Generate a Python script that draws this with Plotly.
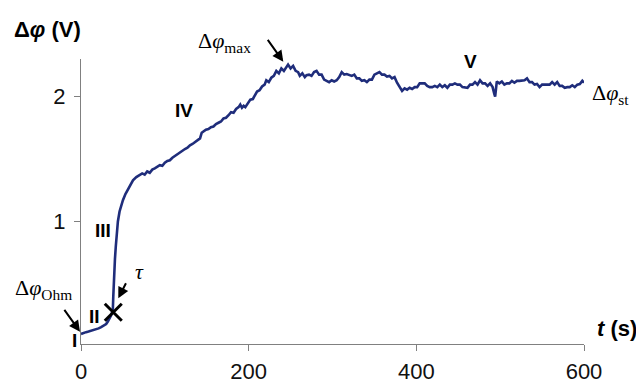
import plotly.graph_objects as go

# ---- data ----
t_vals = [0, 3, 6, 9, 12, 15, 18, 21, 24, 27, 30, 32, 34, 36, 37, 38,
          38.5, 39, 39.7, 40.5, 41.5, 42.5, 44, 46, 48, 50, 53, 56, 59, 62, 66, 70,
          73, 76, 79, 82, 85, 88, 91, 94, 97, 100, 103, 106, 109, 112, 115, 118,
          121, 124, 127, 130, 133, 136, 139, 142, 144, 146, 149, 152, 155, 158,
          161, 164, 167, 170, 173, 176, 179, 182, 185, 188, 190, 192, 194, 196,
          199, 202, 205, 208, 210, 213, 216, 219, 221, 224, 227, 230, 233, 236,
          239, 242, 245, 247,
          250, 253, 256, 259, 261, 264, 267, 269, 272, 275, 278, 281, 284, 287,
          290, 293, 296, 299, 302, 305, 308, 311, 314, 317, 320, 323, 326, 329,
          332, 335, 338, 341, 344, 347, 350, 353, 356, 359, 362, 365, 368, 371,
          374, 377, 380, 383, 386, 389, 392, 395, 398, 401, 404, 407, 410, 413,
          416, 419, 422, 425, 428, 431, 434, 437, 440, 443, 446, 449, 452, 455,
          458, 461, 464, 467, 470, 473, 476, 479, 482, 485, 488, 491, 493, 494,
          495, 496, 499, 502, 505, 508, 511, 514, 517, 520, 523, 526, 529, 532,
          535, 538, 541, 544, 547, 550, 553, 556, 559, 562, 565, 568, 571, 574,
          577, 580, 583, 586, 589, 592, 595, 598, 600]
dphi_vals = [0.10, 0.11, 0.115, 0.12, 0.125, 0.13, 0.14, 0.145, 0.155, 0.165, 0.18, 0.20, 0.22, 0.25, 0.27, 0.30,
             0.40, 0.50, 0.62, 0.70, 0.80, 0.90, 1.00, 1.08, 1.13, 1.17, 1.22, 1.26, 1.30, 1.33, 1.355, 1.37,
             1.385, 1.375, 1.40, 1.39, 1.415, 1.425, 1.435, 1.45, 1.445, 1.47, 1.485, 1.49, 1.51, 1.525, 1.535, 1.55,
             1.565, 1.58, 1.59, 1.61, 1.62, 1.635, 1.645, 1.665, 1.71, 1.72, 1.735, 1.74, 1.755, 1.76,
             1.78, 1.79, 1.80, 1.825, 1.83, 1.85, 1.875, 1.87, 1.90, 1.915, 1.935, 1.91, 1.925, 1.915,
             1.95, 1.975, 1.98, 2.01, 2.04, 2.05, 2.08, 2.095, 2.13, 2.115, 2.15, 2.165, 2.205, 2.185,
             2.225, 2.205, 2.24, 2.255,
             2.225, 2.245, 2.205, 2.195, 2.165, 2.185, 2.155, 2.17, 2.175, 2.165, 2.195, 2.205, 2.175, 2.175,
             2.135, 2.125, 2.115, 2.13, 2.12, 2.13, 2.155, 2.195, 2.175, 2.18, 2.17, 2.165, 2.175, 2.145,
             2.145, 2.125, 2.13, 2.115, 2.135, 2.135, 2.175, 2.185, 2.195, 2.175, 2.175, 2.16, 2.165, 2.145,
             2.155, 2.11, 2.075, 2.045, 2.065, 2.055, 2.07, 2.06, 2.075, 2.075, 2.105, 2.105, 2.105, 2.085,
             2.075, 2.075, 2.085, 2.075, 2.095, 2.075, 2.09, 2.07, 2.095, 2.095, 2.105, 2.095, 2.095, 2.075,
             2.075, 2.07, 2.095, 2.095, 2.115, 2.095, 2.13, 2.105, 2.105, 2.085, 2.105, 2.075, 2.02, 2.00,
             2.06, 2.12, 2.105, 2.12, 2.095, 2.105, 2.105, 2.125, 2.11, 2.125, 2.125, 2.125, 2.13, 2.145,
             2.115, 2.115, 2.095, 2.10, 2.075, 2.095, 2.095, 2.095, 2.095, 2.115, 2.095, 2.115, 2.085, 2.085,
             2.07, 2.075, 2.075, 2.09, 2.075, 2.095, 2.10, 2.125, 2.11]

tau_t = [38.5]
tau_v = [0.274]

x_ticks = [0, 200, 400, 600]
y_ticks = [1, 2]

NAVY = "#1f2d7b"
AXIS = "#808080"
SANS = "Liberation Sans, Arial, sans-serif"
SERIF = "Liberation Serif, Times New Roman, serif"

# page offset (body margin) and plot-area geometry, in pixels
OFF = 8
L, T, W, H = 73, 51, 503, 285

def px(x, y):
    """window pixel -> paper coords"""
    fx, fy = x - OFF, y - OFF
    return (fx - L) / W, (T + H - fy) / H

fig = go.Figure()
fig.add_trace(go.Scatter(x=t_vals, y=dphi_vals, mode="lines",
                         line=dict(color=NAVY, width=2.6), hoverinfo="skip",
                         showlegend=False))
fig.add_trace(go.Scatter(x=tau_t, y=tau_v, mode="markers",
                         marker=dict(symbol="x-thin-open", size=17, color="black",
                                     line=dict(color="black", width=3)),
                         showlegend=False, hoverinfo="skip"))

ann = []
def text(x, y, s, size, family, xanchor="center", yanchor="middle"):
    X, Y = px(x, y)
    ann.append(dict(x=X, y=Y, xref="paper", yref="paper", text=s, showarrow=False,
                    font=dict(size=size, family=family, color="black"),
                    xanchor=xanchor, yanchor=yanchor))

def arrow(hx, hy, tx, ty):
    X, Y = px(hx, hy)
    ann.append(dict(x=X, y=Y, xref="paper", yref="paper", ax=tx - hx, ay=ty - hy,
                    text="", showarrow=True, arrowhead=2, arrowsize=1.1,
                    arrowwidth=2, arrowcolor="black"))

# axis titles
text(47, 30, "<b>Δ<i>φ</i> (V)</b>", 22, SANS)
text(617, 328, "<b><i>t</i> (s)</b>", 22, SANS)

# labels
text(196, 42, "Δ<i>φ</i><sub>max</sub>", 22, SERIF, xanchor="left")
arrow(283.3, 61.7, 266.7, 38.3)
text(590, 94, "Δ<i>φ</i><sub>st</sub>", 22, SERIF, xanchor="left")
text(13, 289, "Δ<i>φ</i><sub>Ohm</sub>", 22, SERIF, xanchor="left")
arrow(80, 331.7, 63.3, 308.3)
text(139, 271, "<i>τ</i>", 22, SERIF)
arrow(118.3, 298.3, 126.7, 281.7)

# stage numerals
text(74, 340, "<b>I</b>", 19, SANS)
text(94, 316, "<b>II</b>", 19, SANS)
text(102.5, 230, "<b>III</b>", 19, SANS)
text(184, 110, "<b>IV</b>", 19, SANS)
text(470, 61, "<b>V</b>", 19, SANS)

fig.update_layout(
    width=644, height=384,
    margin=dict(l=L, r=644 - L - W, t=T, b=384 - T - H),
    paper_bgcolor="white", plot_bgcolor="white",
    showlegend=False,
    annotations=ann,
    xaxis=dict(range=[0, 600], tickvals=x_ticks, ticks="outside", ticklen=6,
               tickcolor=AXIS, tickwidth=1, showline=True, linecolor=AXIS,
               linewidth=1, showgrid=False, zeroline=False, automargin=False,
               tickfont=dict(size=22, family=SANS, color="#111"),
               ticklabelstandoff=2),
    yaxis=dict(range=[0.02, 2.30], tickvals=y_ticks, ticks="outside", ticklen=6,
               tickcolor=AXIS, tickwidth=1, showline=True, linecolor=AXIS,
               linewidth=1, showgrid=False, zeroline=False, automargin=False,
               tickfont=dict(size=22, family=SANS, color="#111"),
               ticklabelstandoff=4),
)

fig.write_html("out.html")
